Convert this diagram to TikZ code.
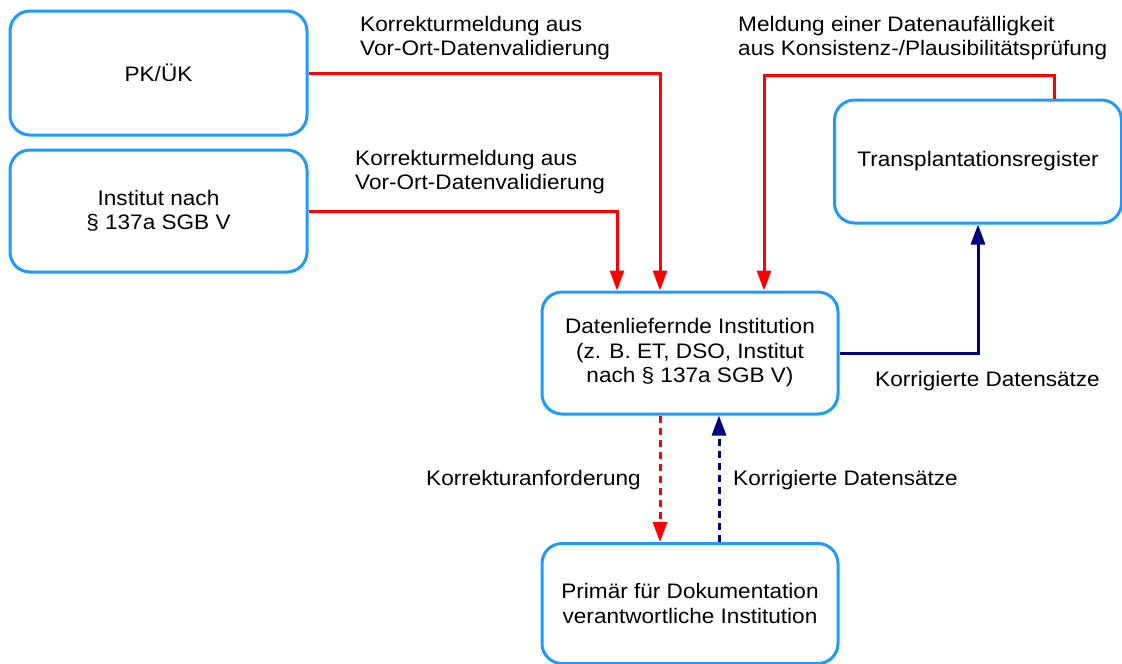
\documentclass[tikz,border=0pt]{standalone}
\usepackage{fontspec}
\setmainfont{Liberation Sans}[FakeStretch=1.075]
\usetikzlibrary{arrows.meta}
\definecolor{boxblue}{RGB}{30,155,250}
\definecolor{navy}{RGB}{0,0,128}
\definecolor{linered}{RGB}{255,0,0}
\tikzset{
  box/.style={draw=boxblue, line width=3pt, rounded corners=20pt, align=center, inner sep=0pt, font=\fontsize{21}{24.5}\selectfont},
  lbl/.style={inner sep=0pt, font=\fontsize{21}{24.5}\selectfont},
  redarr/.style={draw=linered, line width=3pt, -{Triangle[length=20pt,width=14pt]}},
  bluearr/.style={draw=navy, line width=3pt, -{Triangle[length=20pt,width=14pt]}},
  dashpat/.style={dash pattern=on 7pt off 5pt}
}
\begin{document}
\begin{tikzpicture}[x=1pt,y=-1pt]
\useasboundingbox (0,0) rectangle (1122,664);
\node[box, minimum width=297pt, minimum height=124pt] (pk) at (158.5,73) {PK/ÜK};
\node[box, minimum width=297pt, minimum height=122pt] (inst) at (158.5,211) {Institut nach\\§ 137a SGB V};
\node[box, minimum width=296pt, minimum height=122pt] (dl) at (690,353) {Datenliefernde Institution\\(z. B. ET, DSO, Institut\\nach § 137a SGB V)};
\node[box, minimum width=287pt, minimum height=123pt] (tr) at (978,161.5) {Transplantationsregister};
\node[box, minimum width=296pt, minimum height=120pt] (pr) at (690,603.5) {Primär für Dokumentation\\verantwortliche Institution};

\coordinate (xa) at (617,0);
\coordinate (xb) at (660,0);
\coordinate (xc) at (764,0);
\coordinate (xd) at (1054,0);
\coordinate (xe) at (719,0);
\coordinate (top) at (0,75);

\draw[redarr] (pk.east) -| (xb |- dl.north);
\draw[redarr] (inst.east) -| (xa |- dl.north);
\draw[redarr] (xd |- tr.north) -- (xd |- top) -| (xc |- dl.north);
\draw[bluearr] (dl.east) -| (tr.south);
\draw[redarr, dashpat] (xb |- dl.south) -- (xb |- pr.north);
\draw[bluearr, dashpat] (xe |- pr.north) -- (xe |- dl.south);

\node[lbl, anchor=west, align=left] (l1) at (360,38) {Korrekturmeldung aus\\Vor-Ort-Datenvalidierung};
\node[lbl, anchor=west, align=left] (l2) at (355,172) {Korrekturmeldung aus\\Vor-Ort-Datenvalidierung};
\node[lbl, anchor=west, align=left] (l3) at (738,38) {Meldung einer Datenaufälligkeit\\aus Konsistenz-/Plausibilitätsprüfung};
\node[lbl, anchor=west] (l4) at (875,381) {Korrigierte Datensätze};
\node[lbl, anchor=east] (l5) at (641,480) {Korrekturanforderung};
\node[lbl, anchor=west] (l6) at (733,480) {Korrigierte Datensätze};
\end{tikzpicture}
\end{document}
